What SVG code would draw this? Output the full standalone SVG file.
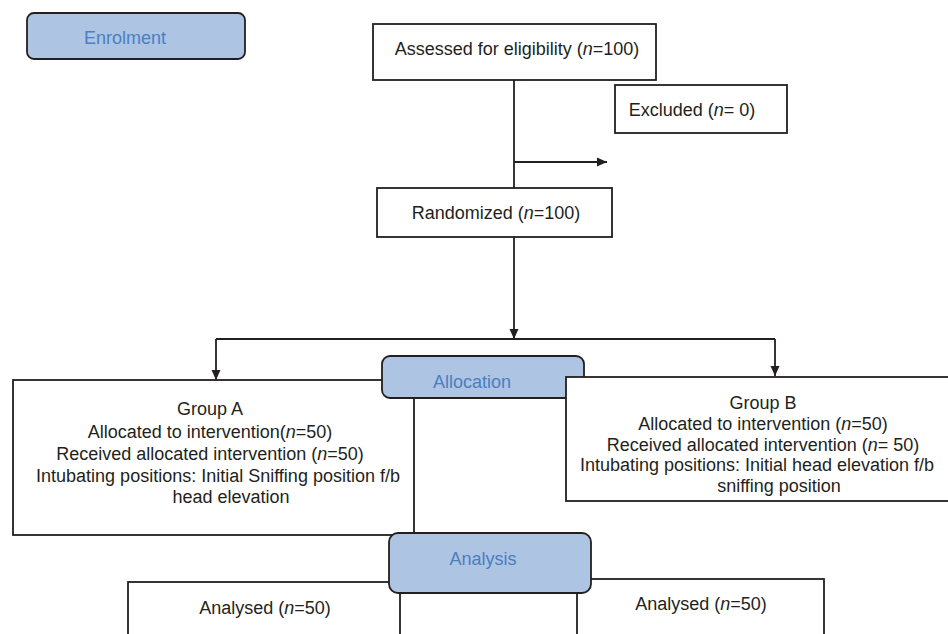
<svg xmlns="http://www.w3.org/2000/svg" width="948" height="634" viewBox="0 0 948 634">
<style>
  .box{fill:#ffffff;stroke:#231f20;stroke-width:1.8}
  .stage{fill:#adc4e3;stroke:#231f20;stroke-width:1.8}
  .t{font-family:"Liberation Sans",Arial,sans-serif;font-size:18px;fill:#231f20;text-anchor:middle}
  .st{font-family:"Liberation Sans",Arial,sans-serif;font-size:18px;fill:#4a7fc1;text-anchor:middle}
  .ln{fill:none;stroke:#231f20;stroke-width:1.8}
  .i{font-style:italic}
</style>
<defs>
  <marker id="ah" viewBox="0 0 10 10" refX="10" refY="5" markerWidth="10" markerHeight="10" markerUnits="userSpaceOnUse" orient="auto">
    <path d="M0,0.5 L10,5 L0,9.5 Z" fill="#231f20"/>
  </marker>
</defs>
<rect width="948" height="634" fill="#ffffff"/>

<g id="enrolment">
  <rect class="stage" x="27" y="13" width="218" height="46" rx="7"/>
  <text class="st" x="125" y="44">Enrolment</text>
</g>

<g id="connectors">
  <path class="ln" d="M514,80 V188"/>
  <path class="ln" d="M514,162 H607" marker-end="url(#ah)"/>
  <path class="ln" d="M514,237 V339" marker-end="url(#ah)"/>
  <path class="ln" d="M216,339 H775"/>
  <path class="ln" d="M216,339 V380" marker-end="url(#ah)"/>
  <path class="ln" d="M775,339 V376" marker-end="url(#ah)"/>
</g>

<g id="assessed">
  <rect class="box" x="373" y="24" width="283" height="56"/>
  <text class="t" x="517" y="55">Assessed for eligibility (<tspan class="i">n</tspan>=100)</text>
</g>

<g id="excluded">
  <rect class="box" x="615" y="85" width="172" height="48"/>
  <text class="t" x="692" y="116">Excluded (<tspan class="i">n</tspan>= 0)</text>
</g>

<g id="randomized">
  <rect class="box" x="377" y="188" width="235" height="49"/>
  <text class="t" x="496" y="219">Randomized (<tspan class="i">n</tspan>=100)</text>
</g>

<g id="groupA">
  <rect class="box" x="13" y="380" width="401" height="155"/>
  <text class="t" x="210" y="415">Group A</text>
  <text class="t" x="210" y="438">Allocated to intervention(<tspan class="i">n</tspan>=50)</text>
  <text class="t" x="210" y="460">Received allocated intervention (<tspan class="i">n</tspan>=50)</text>
  <text class="t" x="218" y="482">Intubating positions: Initial Sniffing position f/b</text>
  <text class="t" x="231" y="503">head elevation</text>
</g>

<g id="allocation">
  <rect class="stage" x="382" y="356" width="202" height="42" rx="8"/>
  <text class="st" x="472" y="388">Allocation</text>
</g>

<g id="groupB">
  <rect class="box" x="566" y="377" width="390" height="124"/>
  <text class="t" x="763" y="409">Group B</text>
  <text class="t" x="763" y="430">Allocated to intervention (<tspan class="i">n</tspan>=50)</text>
  <text class="t" x="763" y="451">Received allocated intervention (<tspan class="i">n</tspan>= 50)</text>
  <text class="t" x="757" y="471">Intubating positions: Initial head elevation f/b</text>
  <text class="t" x="779" y="492">sniffing position</text>
</g>

<g id="analysedA">
  <rect class="box" x="128" y="582" width="272" height="70"/>
  <text class="t" x="265" y="614">Analysed (<tspan class="i">n</tspan>=50)</text>
</g>

<g id="analysedB">
  <rect class="box" x="577" y="579" width="247" height="70"/>
  <text class="t" x="701" y="610">Analysed (<tspan class="i">n</tspan>=50)</text>
</g>

<g id="analysis">
  <rect class="stage" x="389" y="533" width="202" height="60" rx="9"/>
  <text class="st" x="483" y="565">Analysis</text>
</g>
</svg>
